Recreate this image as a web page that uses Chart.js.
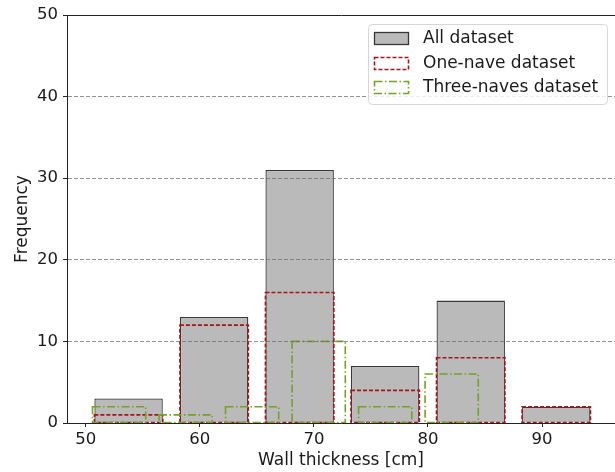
<!DOCTYPE html>
<html>
<head>
<meta charset="utf-8">
<script src="https://cdn.jsdelivr.net/npm/chart.js@4"></script>
<style>
    html, body { margin: 0; padding: 0; background: #fff; }
    #wrap { width: 615px; height: 472px; }
</style>
</head>
<body>
<div id="wrap"><canvas id="chart-thickness"></canvas></div>
<script>
(function () {
    "use strict";

    // bin centres (cm) and counts
    var allCentres = [53.75, 61.25, 68.75, 76.25, 83.75, 91.25];
    var allCounts = [3, 13, 31, 7, 15, 2];
    var oneNaveCounts = [1, 12, 16, 4, 8, 2];
    var threeCentres = [52.92, 58.75, 64.58, 70.42, 76.25, 82.08];
    var threeNaveCounts = [2, 1, 2, 10, 2, 6];

    var xTicks = [50, 60, 70, 80, 90];
    var yTicks = [0, 10, 20, 30, 40, 50];
    var seriesLabels = ["All dataset", "One-nave dataset", "Three-naves dataset"];

    var FONT = "'DejaVu Sans', sans-serif";
    var TEXT = "#1a1a1a";
    var AXIS = "#222";
    var GRAY_FILL = "#bababa";
    var GRAY_EDGE = "#383838";
    var RED = "#a3161c";
    var GREEN = "#76a02a";
    var RED_DASH = [4, 2];
    var GREEN_DASH = [8, 2.5, 1.5, 2.5];

    function points(xs, ys) {
        return xs.map(function (x, i) {
            return { x: x, y: ys[i] };
        });
    }

    function fixedTicks(values) {
        return function (scale) {
            scale.ticks = values.map(function (v) { return { value: v }; });
        };
    }

    // Chart.js bars have no dashed borders, so stroke them here
    var dashedOutline = {
        id: "dashedOutline",
        afterDatasetDraw: function (chart, args) {
            var ds = chart.data.datasets[args.index];
            if (!ds.outline) {
                return;
            }
            var ctx = chart.ctx;
            ctx.save();
            ctx.strokeStyle = ds.outline.color;
            ctx.lineWidth = ds.outline.width;
            ctx.setLineDash(ds.outline.dash);
            args.meta.data.forEach(function (bar) {
                var p = bar.getProps(["x", "y", "base", "width"], true);
                ctx.strokeRect(p.x - p.width / 2, p.y, p.width, p.base - p.y);
            });
            ctx.restore();
        },
    };

    // matplotlib-style legend box in the upper right of the plot
    var boxLegend = {
        id: "boxLegend",
        afterDraw: function (chart) {
            var ctx = chart.ctx;
            var x0 = 368, y0 = 24, w = 239, h = 80;
            ctx.save();
            ctx.fillStyle = "rgba(255,255,255,0.85)";
            ctx.strokeStyle = "#d6d6d6";
            ctx.lineWidth = 1;
            ctx.beginPath();
            ctx.roundRect(x0 + 0.5, y0 + 0.5, w, h, 4);
            ctx.fill();
            ctx.stroke();

            ctx.font = "17px " + FONT;
            ctx.textBaseline = "middle";
            chart.data.datasets.forEach(function (ds, i) {
                var cy = y0 + 14 + i * 24.7;
                var hx = 374.5, hy = Math.round(cy - 6) + 0.5;
                ctx.save();
                if (ds.outline) {
                    ctx.strokeStyle = ds.outline.color;
                    ctx.lineWidth = ds.outline.width;
                    ctx.setLineDash(ds.outline.dash);
                } else {
                    ctx.fillStyle = ds.backgroundColor;
                    ctx.fillRect(hx, hy, 34, 12);
                    ctx.strokeStyle = ds.borderColor;
                    ctx.lineWidth = ds.borderWidth;
                }
                ctx.strokeRect(hx, hy, 34, 12);
                ctx.restore();
                ctx.fillStyle = TEXT;
                ctx.fillText(ds.label, 423, cy + 0.5);
            });
            ctx.restore();
        },
    };

    function init() {
        var canvas = document.getElementById("chart-thickness");
        if (!canvas || typeof Chart === "undefined") {
            return;
        }

        new Chart(canvas, {
            type: "bar",
            data: {
                datasets: [
                    {
                        label: seriesLabels[0],
                        data: points(allCentres, allCounts),
                        backgroundColor: GRAY_FILL,
                        borderColor: GRAY_EDGE,
                        borderWidth: 1.3,
                        borderSkipped: "start",
                        order: 3,
                    },
                    {
                        label: seriesLabels[1],
                        data: points(allCentres, oneNaveCounts),
                        backgroundColor: "rgba(0,0,0,0)",
                        borderWidth: 0,
                        outline: { color: RED, width: 1.6, dash: RED_DASH },
                        order: 2,
                    },
                    {
                        label: seriesLabels[2],
                        data: points(threeCentres, threeNaveCounts),
                        backgroundColor: "rgba(0,0,0,0)",
                        borderWidth: 0,
                        xAxisID: "x2",
                        outline: { color: GREEN, width: 1.6, dash: GREEN_DASH },
                        order: 1,
                    },
                ],
            },
            options: {
                responsive: true,
                maintainAspectRatio: false,
                animation: false,
                events: [],
                layout: { padding: 0 },
                datasets: {
                    bar: {
                        grouped: false,
                        categoryPercentage: 1,
                        barPercentage: 0.8,
                    },
                },
                plugins: {
                    legend: { display: false },
                    tooltip: { enabled: false },
                },
                scales: {
                    x: {
                        type: "linear",
                        position: "bottom",
                        min: 48.35,
                        max: 96.4,
                        offset: false,
                        afterBuildTicks: fixedTicks(xTicks),
                        afterFit: function (scale) { scale.height = 49; },
                        grid: {
                            offset: false,
                            drawOnChartArea: false,
                            tickLength: 4,
                            tickColor: AXIS,
                            tickWidth: 1,
                        },
                        border: { display: true, color: AXIS, width: 1, z: 1 },
                        ticks: {
                            padding: 3,
                            color: TEXT,
                            maxRotation: 0,
                            font: { family: FONT, size: 16.5 },
                        },
                        title: {
                            display: true,
                            text: "Wall thickness [cm]",
                            color: TEXT,
                            padding: { top: 0, bottom: 1 },
                            font: { family: FONT, size: 17 },
                        },
                    },
                    x2: {
                        type: "linear",
                        position: "top",
                        min: 48.35,
                        max: 96.4,
                        offset: false,
                        afterBuildTicks: fixedTicks(xTicks),
                        afterFit: function (scale) { scale.height = 15; },
                        grid: { display: false, drawTicks: false },
                        border: { display: true, color: AXIS, width: 1, z: 1 },
                        ticks: { display: false },
                    },
                    y: {
                        min: 0,
                        max: 50,
                        afterBuildTicks: fixedTicks(yTicks),
                        afterFit: function (scale) { scale.width = 67; },
                        grid: {
                            z: 1,
                            lineWidth: 1,
                            color: function (ctx) {
                                var v = ctx.tick ? ctx.tick.value : 0;
                                return v === 0 || v === 50 ? "rgba(0,0,0,0)" : "rgba(110,110,110,0.75)";
                            },
                            tickLength: 4,
                            tickColor: AXIS,
                            tickWidth: 1,
                        },
                        border: { display: true, color: AXIS, width: 1, z: 1, dash: [4, 2] },
                        ticks: {
                            padding: 5,
                            color: TEXT,
                            font: { family: FONT, size: 16.5 },
                        },
                        title: {
                            display: true,
                            text: "Frequency",
                            color: TEXT,
                            padding: { top: 12, bottom: 0 },
                            font: { family: FONT, size: 17 },
                        },
                    },
                },
            },
            plugins: [dashedOutline, boxLegend],
        });
    }

    if (document.readyState === "loading") {
        document.addEventListener("DOMContentLoaded", init);
    } else {
        init();
    }
})();
</script>
</body>
</html>
